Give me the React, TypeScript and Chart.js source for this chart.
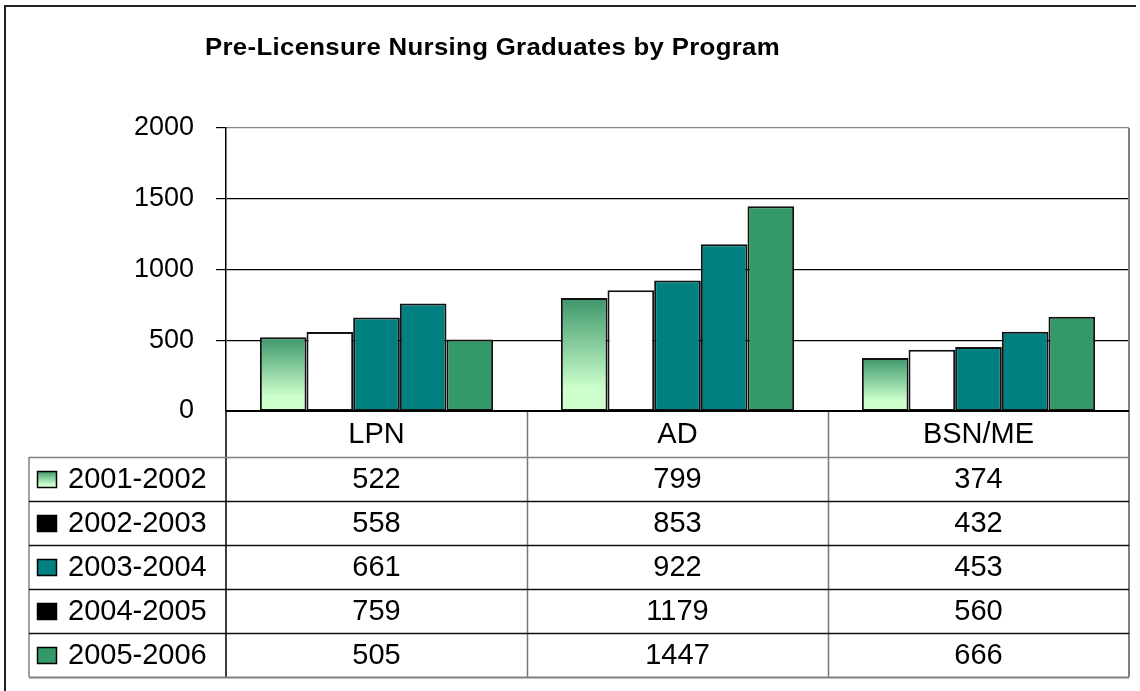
import React, { useEffect, useRef } from "react";
import { Chart, registerables } from "chart.js";

Chart.register(...registerables);

const TITLE = "Pre-Licensure Nursing Graduates by Program";
const categories = ["LPN", "AD", "BSN/ME"];
const seriesNames = ["2001-2002", "2002-2003", "2003-2004", "2004-2005", "2005-2006"];
const s2001 = [522, 799, 374];
const s2002 = [558, 853, 432];
const s2003 = [661, 922, 453];
const s2004 = [759, 1179, 560];
const s2005 = [505, 1447, 666];
const seriesValues = [s2001, s2002, s2003, s2004, s2005];
const yTicks = [0, 500, 1000, 1500, 2000];

const FONT = "'Liberation Sans', Arial, sans-serif";
const TEAL = "#008080";
const GREEN = "#339966";

function gradientFill(ctx: any) {
  const chart = ctx.chart;
  const y = chart.scales && chart.scales.y;
  if (!y || ctx.type !== "data" || !isFinite(y.getPixelForValue(0))) return "#99cc99";
  const top = y.getPixelForValue(ctx.raw);
  const bottom = y.getPixelForValue(0);
  const g = chart.ctx.createLinearGradient(0, top, 0, bottom);
  g.addColorStop(0, "#3d966a");
  g.addColorStop(0.8, "#ccffcc");
  g.addColorStop(1, "#ccffcc");
  return g;
}

const fills: any[] = [gradientFill, "#ffffff", TEAL, TEAL, GREEN];

const decorPlugin = {
  id: "decor",
  beforeDraw(chart: any) {
    const c = chart.ctx;
    c.save();
    c.fillStyle = "#ffffff";
    c.fillRect(0, 0, chart.width, chart.height);
    // outer frame
    c.strokeStyle = "#222";
    c.lineWidth = 2;
    c.beginPath();
    c.moveTo(5, chart.height + 2);
    c.lineTo(5, 6);
    c.lineTo(1136, 6);
    c.stroke();
    // title
    c.fillStyle = "#000";
    c.font = `bold 24px ${FONT}`;
    try {
      (c as any).letterSpacing = "0.3px";
    } catch (e) {}
    c.textAlign = "left";
    c.textBaseline = "alphabetic";
    const natural = c.measureText(TITLE).width;
    const sx = natural > 0 ? 575 / natural : 1;
    c.translate(205, 54.5);
    c.scale(sx, 1);
    c.fillText(TITLE, 0, 0);
    try {
      (c as any).letterSpacing = "0px";
    } catch (e) {}
    c.restore();
  },
  afterDraw(chart: any) {
    const c = chart.ctx;
    const area = chart.chartArea;
    const xs = chart.scales.x;
    const left = area.left;
    const right = area.right;
    const top = area.bottom;
    const headerH = 46;
    const rowH = 44;
    const tableLeft = 29;
    const bottom = top + headerH + rowH * seriesNames.length;
    const colW = (right - left) / categories.length;
    c.save();
    // plot right border
    c.strokeStyle = "#808080";
    c.lineWidth = 2;
    c.beginPath();
    c.moveTo(right, area.top);
    c.lineTo(right, bottom);
    c.stroke();
    // vertical column lines
    c.lineWidth = 1.5;
    for (let i = 1; i < categories.length; i++) {
      const x = Math.round(left + colW * i) + 0.5;
      c.strokeStyle = "#777";
      c.beginPath();
      c.moveTo(x, top);
      c.lineTo(x, bottom);
      c.stroke();
    }
    // axis continuation to bottom
    c.strokeStyle = "#000";
    c.beginPath();
    c.moveTo(left, top);
    c.lineTo(left, bottom);
    c.stroke();
    // left border of table
    c.strokeStyle = "#808080";
    c.beginPath();
    c.moveTo(tableLeft, top + headerH);
    c.lineTo(tableLeft, bottom);
    c.stroke();
    // horizontal lines
    for (let r = 0; r <= seriesNames.length; r++) {
      const y = Math.round(top + headerH + rowH * r) + 0.5;
      c.strokeStyle = r === 0 || r === seriesNames.length ? "#808080" : "#111";
      c.lineWidth = r === seriesNames.length ? 2 : 1.5;
      c.beginPath();
      c.moveTo(tableLeft, y);
      c.lineTo(right, y);
      c.stroke();
    }
    // x axis line
    c.strokeStyle = "#000";
    c.lineWidth = 2;
    c.beginPath();
    c.moveTo(left, top);
    c.lineTo(right, top);
    c.stroke();
    // header labels
    c.fillStyle = "#000";
    c.font = `29px ${FONT}`;
    c.textAlign = "center";
    c.textBaseline = "middle";
    categories.forEach((cat, i) => {
      c.fillText(cat, xs.getPixelForValue(i), top + headerH / 2 + 1);
    });
    // rows
    seriesNames.forEach((name, r) => {
      const cy = top + headerH + rowH * r + rowH / 2 + 1;
      seriesValues[r].forEach((v, i) => {
        c.textAlign = "center";
        c.fillText(String(v), xs.getPixelForValue(i), cy);
      });
      c.textAlign = "left";
      c.fillText(name, 68, cy);
      // swatch
      const sx = 37, sw = 20, sh = 17;
      const sy = Math.round(cy - sh / 2 - 1);
      let fill: any;
      if (r === 0) {
        const g = c.createLinearGradient(0, sy, 0, sy + sh);
        g.addColorStop(0, "#3d966a");
        g.addColorStop(0.8, "#ccffcc");
        g.addColorStop(1, "#ccffcc");
        fill = g;
      } else if (r === 1 || r === 3) {
        fill = "#000";
      } else {
        fill = r === 2 ? TEAL : GREEN;
      }
      c.fillStyle = fill;
      c.fillRect(sx, sy, sw, sh);
      c.strokeStyle = "#000";
      c.lineWidth = 1.5;
      c.strokeRect(sx + 0.5, sy + 0.5, sw - 1, sh - 1);
      c.fillStyle = "#000";
    });
    c.restore();
  },
};

export default function App() {
  const ref = useRef<HTMLCanvasElement | null>(null);
  useEffect(() => {
    document.body.style.margin = "0";
    const canvas = ref.current;
    if (!canvas) return;
    const chart = new Chart(canvas, {
      type: "bar",
      data: {
        labels: categories,
        datasets: seriesNames.map((n, i) => ({
          label: n,
          data: seriesValues[i],
          backgroundColor: fills[i],
          borderColor: "#111",
          borderWidth: 2,
          borderSkipped: false,
          categoryPercentage: 0.775,
          barPercentage: 1,
        })),
      },
      options: {
        responsive: false,
        animation: false,
        devicePixelRatio: 1,
        layout: { padding: { left: 0, right: 11, top: 128, bottom: 280 } },
        plugins: {
          legend: { display: false },
          tooltip: { enabled: false },
          title: { display: false },
        },
        scales: {
          x: { display: false },
          y: {
            min: 0,
            max: 2000,
            afterFit(scale: any) {
              scale.width = 226;
            },
            afterBuildTicks(scale: any) {
              scale.ticks = yTicks.map((v) => ({ value: v }));
            },
            ticks: {
              color: "#000",
              font: { family: FONT, size: 27 },
              padding: 22,
              callback: (v: any) => String(v),
            },
            grid: {
              color: (ctx: any) => (ctx.tick && ctx.tick.value === 2000 ? "#888" : "#000"),
              tickColor: "#000",
              tickLength: 10,
              lineWidth: (ctx: any) => (ctx.tick && ctx.tick.value === 0 ? 0 : 1.2),
            },
            border: { display: true, color: "#000", width: 1.5 },
          },
        },
      },
      plugins: [decorPlugin],
    });
    return () => chart.destroy();
  }, []);
  return (
    <div style={{ position: "absolute", left: 0, top: 0, width: 1140, height: 691 }}>
      <canvas ref={ref} width={1140} height={691} style={{ display: "block" }} />
    </div>
  );
}
